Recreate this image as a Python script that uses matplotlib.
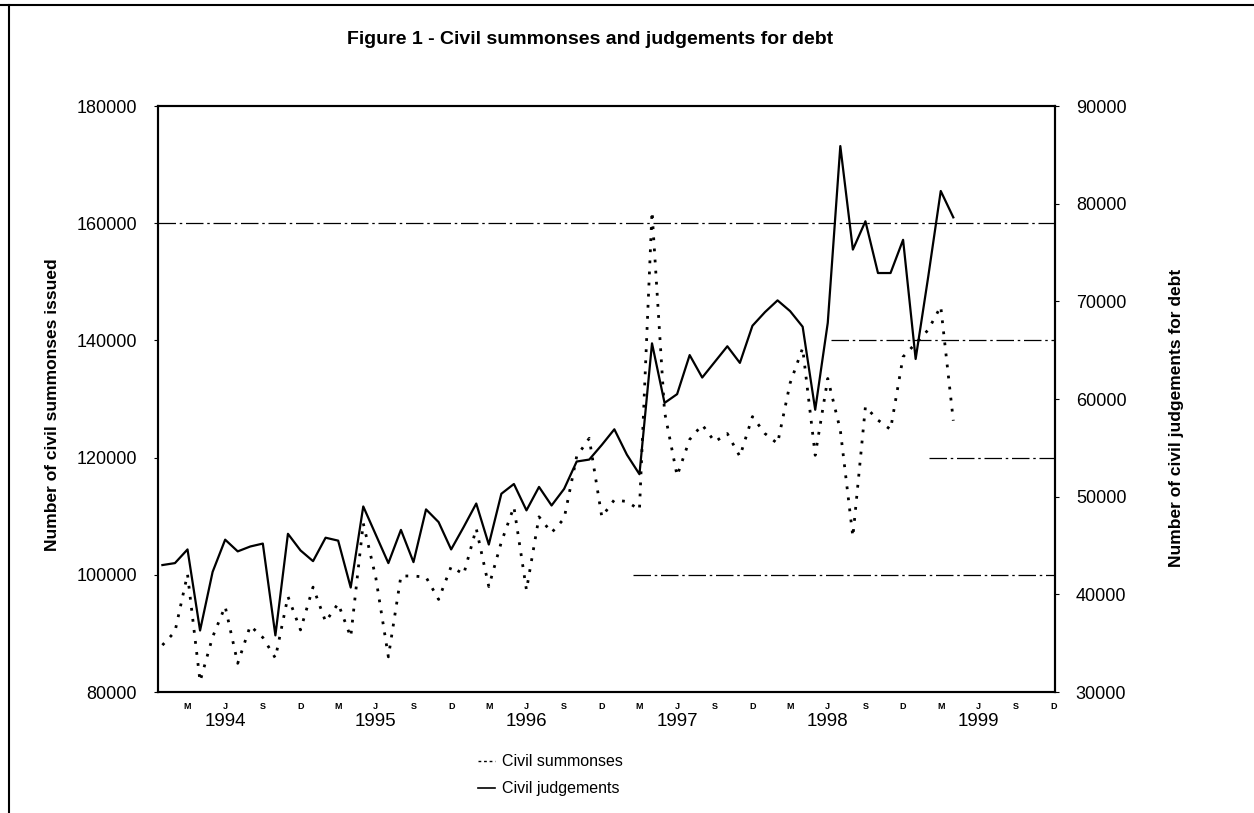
import numpy as np
import matplotlib
matplotlib.use("Agg")
import matplotlib.pyplot as plt
from matplotlib.lines import Line2D

plt.rcParams['font.family'] = ['Liberation Sans', 'DejaVu Sans']

# monthly data, Jan 1994 .. Apr 1999
summonses = [88000, 90300, 100100, 81800, 89400, 94600, 84900, 91300, 89300, 85800,
             96300, 90600, 97900, 92000, 95100, 89400, 108800, 99500, 86000, 99800,
             99800, 99600, 95800, 101400, 100100, 107900, 98000, 105600, 111600, 97400,
             109900, 107200, 109600, 120200, 123300, 109900, 112800, 112500, 111100, 162000,
             127800, 116900, 123100, 125600, 122700, 124100, 120200, 127000, 124100, 122400,
             132700, 138700, 120400, 133500, 124700, 106500, 128700, 126400, 124800, 137200,
             139500, 141800, 145800, 126300]
judgements = [43000, 43200, 44600, 36300, 42300, 45600, 44400, 44900, 45200, 35800,
              46200, 44500, 43400, 45800, 45500, 40700, 49000, 46100, 43200, 46600,
              43300, 48700, 47400, 44600, 46900, 49300, 45100, 50300, 51300, 48600,
              51000, 49100, 50800, 53600, 53800, 55300, 56900, 54300, 52300, 65700,
              59600, 60500, 64500, 62200, 63800, 65400, 63700, 67500, 68900, 70100,
              69000, 67400, 58900, 67800, 85900, 75300, 78200, 72900, 72900, 76300,
              64100, 72500, 81300, 78600]
month_letters = ['M', 'J', 'S', 'D']
years = ['1994', '1995', '1996', '1997', '1998', '1999']

months = np.arange(len(summonses))

fig = plt.figure(figsize=(12.54, 8.13), dpi=100)
ax = fig.add_axes([0.126, 0.1488, 0.7153, 0.7208])
ax2 = ax.twinx()

ax.set_xlim(-0.35, 71.1)
ax.set_ylim(80000, 180000)
ax2.set_ylim(30000, 90000)

# broken horizontal gridlines as in the scan
grid_ls = (0, (14, 3, 2, 3))
ax.axhline(160000, color='black', lw=0.9, ls=grid_ls, zorder=1)
ax.axhline(140000, xmin=0.75, xmax=1, color='black', lw=0.9, ls=grid_ls, zorder=1)
ax.axhline(120000, xmin=0.86, xmax=1, color='black', lw=0.9, ls=grid_ls, zorder=1)
ax.axhline(100000, xmin=0.53, xmax=1, color='black', lw=0.9, ls=grid_ls, zorder=1)

ax.plot(months, summonses, color='black', lw=2.0, ls=(0, (1, 3)))
ax2.plot(months, judgements, color='black', lw=1.6)

ax.set_yticks(np.arange(80000, 180001, 20000))
ax2.set_yticks(np.arange(30000, 90001, 10000))
ax.tick_params(axis='y', labelsize=13, length=3, pad=12)
ax2.tick_params(axis='y', labelsize=13, length=3, pad=12)

# month letters and years under the axis
tick_pos = [m for m in range(72) if m % 3 == 2]
ax.set_xticks(tick_pos)
ax.set_xticklabels([month_letters[i % 4] for i in range(len(tick_pos))],
                   fontsize=6.5, fontweight='bold')
ax.tick_params(axis='x', length=0, pad=7)
for i, yr in enumerate(years):
    ax.text(5 + 12 * i, -0.05, yr, transform=ax.get_xaxis_transform(),
            ha='center', va='center', fontsize=13.5)

for a in (ax, ax2):
    for s in a.spines.values():
        s.set_linewidth(1.5)

fig.text(0.4705, 0.951, 'Figure 1 - Civil summonses and judgements for debt',
         ha='center', va='center', fontsize=14, fontweight='bold')
fig.text(0.042, 0.502, 'Number of civil summonses issued', rotation=90,
         ha='center', va='center', fontsize=12.5, fontweight='bold')
fig.text(0.938, 0.486, 'Number of civil judgements for debt', rotation=90,
         ha='center', va='center', fontsize=12.5, fontweight='bold')

handles = [Line2D([], [], color='black', lw=1.0, ls=(0, (2, 2))),
           Line2D([], [], color='black', lw=1.2)]
fig.legend(handles, ['Civil summonses', 'Civil judgements'], loc='upper left',
           bbox_to_anchor=(0.381, 0.072), frameon=False, fontsize=11.5,
           handlelength=1.1, handletextpad=0.4, labelspacing=0.75,
           borderaxespad=0, borderpad=0)

# page frame (top and left edges)
fig.add_artist(Line2D([0, 1], [0.994, 0.994], color='black', lw=1.5, transform=fig.transFigure))
fig.add_artist(Line2D([0.007, 0.007], [0, 0.994], color='black', lw=1.5, transform=fig.transFigure))

fig.savefig('out.png', dpi=100)
